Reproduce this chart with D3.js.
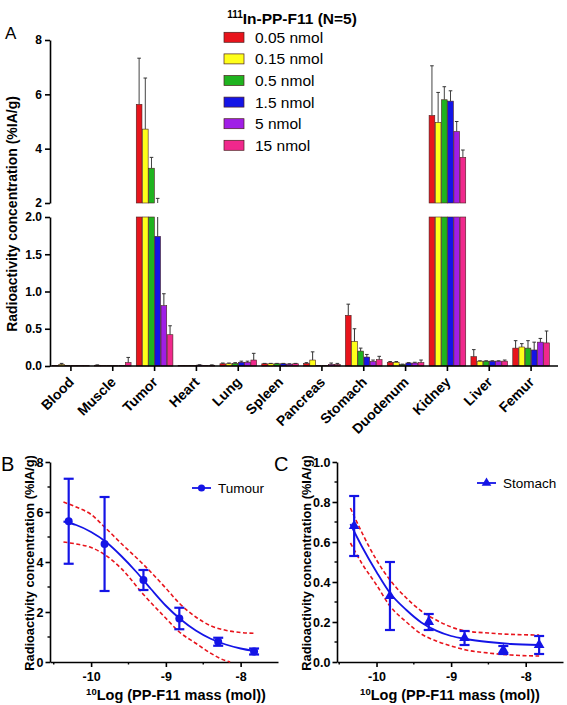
<!DOCTYPE html>
<html><head><meta charset="utf-8">
<script src="https://cdn.jsdelivr.net/npm/d3@7/dist/d3.min.js"></script>
<style>body{margin:0;background:#fff}svg{font-family:"Liberation Sans",Arial,sans-serif}</style>
</head><body><svg id="c" width="567" height="705"></svg>
<script>
const organs = ["Blood","Muscle","Tumor","Heart","Lung","Spleen","Pancreas","Stomach","Duodenum","Kidney","Liver","Femur"];
const doses = ["0.05 nmol","0.15 nmol","0.5 nmol","1.5 nmol","5 nmol","15 nmol"];
const doseColors = ["#e8141c","#ffff1a","#1fb31f","#1414e6","#a01ee6","#f0288c"];
// mean per organ, one array per dose
const mean005 = [0.005,0.010,5.63,0.005,0.030,0.030,0.035,0.68,0.050,5.22,0.125,0.240];
const mean015 = [0.020,0.005,4.72,0.005,0.030,0.030,0.080,0.33,0.050,4.97,0.065,0.255];
const mean05  = [0.005,0.005,3.28,0.005,0.035,0.030,0.005,0.20,0.020,5.80,0.065,0.240];
const mean15  = [0.005,0.005,1.74,0.012,0.050,0.030,0.005,0.12,0.040,5.75,0.065,0.215];
const mean5   = [0.005,0.005,0.81,0.005,0.050,0.025,0.020,0.06,0.040,4.63,0.065,0.320];
const mean15b = [0.005,0.045,0.42,0.010,0.080,0.030,0.020,0.085,0.045,3.68,0.065,0.310];
// SD per organ, one array per dose
const sd005 = [0,0.005,1.70,0,0.010,0.005,0.010,0.15,0.010,1.83,0.095,0.100];
const sd015 = [0.015,0,1.88,0,0.010,0.005,0.110,0.17,0.010,1.10,0.005,0.045];
const sd05  = [0,0,0.40,0,0.010,0.005,0,0.04,0.005,0.48,0.005,0.100];
const sd15  = [0,0,0.43,0.005,0.015,0.005,0,0.035,0.005,0.38,0.005,0.105];
const sd5   = [0,0,0.16,0,0.015,0.005,0.020,0.02,0.010,0.37,0.005,0.050];
const sd15b = [0,0.070,0.12,0.005,0.090,0.005,0.015,0.045,0.035,0.27,0.015,0.160];
const means = [mean005,mean015,mean05,mean15,mean5,mean15b];
const sds = [sd005,sd015,sd05,sd15,sd5,sd15b];
const upperTicks = [2,4,6,8];
const lowerTicks = [0,0.5,1.0,1.5,2.0];

// dose-response panels
const logMass = [-10.3,-9.82,-9.3,-8.82,-8.3,-7.82];
const tumourFitX = [-10.37,-10.2,-10.0,-9.8,-9.6,-9.4,-9.2,-9.0,-8.8,-8.6,-8.4,-8.2,-8.0,-7.82];
const tumourFitY = [5.62,5.48,5.2,4.8,4.25,3.62,2.92,2.25,1.7,1.26,0.93,0.7,0.54,0.44];
const tumourUpX = [-10.37,-10.2,-10.0,-9.82,-9.6,-9.3,-9.0,-8.82,-8.6,-8.4,-8.2,-8.0,-7.82];
const tumourUpY = [6.4,6.2,5.9,5.4,4.75,3.9,2.95,2.35,1.8,1.45,1.27,1.18,1.15];
const tumourLoX = [-10.37,-10.2,-10.0,-9.82,-9.6,-9.3,-9.0,-8.82,-8.6,-8.4,-8.2,-8.14];
const tumourLoY = [4.8,4.72,4.58,4.3,3.75,2.7,1.75,1.2,0.75,0.35,0.05,0.0];
const stomFitX = [-10.35,-10.2,-10.0,-9.82,-9.6,-9.4,-9.2,-9.0,-8.8,-8.5,-8.2,-7.82];
const stomFitY = [0.69,0.58,0.45,0.345,0.26,0.198,0.157,0.13,0.115,0.1,0.09,0.085];
const stomUpY = [0.77,0.65,0.51,0.41,0.32,0.255,0.21,0.175,0.155,0.145,0.138,0.135];
const stomLoY = [0.595,0.495,0.385,0.28,0.2,0.14,0.105,0.08,0.06,0.045,0.035,0.03];
const bYTicks = [0,2,4,6,8], bYMinor=[1,3,5,7];
const cYTicks = [0,0.2,0.4,0.6,0.8,1.0], cYMinor=[0.1,0.3,0.5,0.7,0.9];
const xTicks = [-10,-9,-8], xMinor=[-10.5,-9.5,-8.5];

const svg = d3.select("#c");
svg.append("rect").attr("width",567).attr("height",705).attr("fill","#fff");

// Title
const t = svg.append("text").attr("x",292).attr("y",24).attr("text-anchor","middle")
  .attr("font-weight","bold").attr("font-size",15.5);
t.append("tspan").attr("font-size",10).attr("dy",-6).text("111");
t.append("tspan").attr("dy",6).text("In-PP-F11 (N=5)");
svg.append("text").attr("x",5).attr("y",39).attr("font-size",17).text("A");

// Panel A scales
const x0 = d3.scaleBand().domain(organs).range([50,552]);
const x1 = d3.scaleBand().domain(doses).range([2.6, x0.bandwidth()-2.6]).paddingInner(0.08);
const yUp = d3.scaleLinear().domain([2,8]).range([203,40]);
const yLo = d3.scaleLinear().domain([0,2]).range([366,217]);

const A = svg.append("g");
doses.forEach((d,di)=>{
  organs.forEach((o,oi)=>{
    const v = means[di][oi], e = v + sds[di][oi];
    const bx = x0(o)+x1(d), bw = x1.bandwidth(), cx = bx+bw/2;
    A.append("rect").attr("x",bx).attr("width",bw)
      .attr("y",yLo(Math.min(v,2))).attr("height",yLo(0)-yLo(Math.min(v,2)))
      .attr("fill",doseColors[di]).attr("stroke","#4a2020").attr("stroke-width",0.6);
    if (v>2) {
      A.append("rect").attr("x",bx).attr("width",bw)
        .attr("y",yUp(v)).attr("height",yUp(2)-yUp(v))
        .attr("fill",doseColors[di]).attr("stroke","#4a2020").attr("stroke-width",0.6);
    }
    if (sds[di][oi]>0) {
      if (v<2) {
        A.append("line").attr("x1",cx).attr("x2",cx).attr("y1",yLo(v)).attr("y2",yLo(Math.min(e,2)))
          .attr("stroke","#333").attr("stroke-width",1);
        if (e<=2) A.append("line").attr("x1",cx-1.8).attr("x2",cx+1.8).attr("y1",yLo(e)).attr("y2",yLo(e))
          .attr("stroke","#333").attr("stroke-width",1);
      }
      if (e>2) {
        A.append("line").attr("x1",cx).attr("x2",cx).attr("y1",yUp(Math.max(v,2))).attr("y2",yUp(e))
          .attr("stroke","#444").attr("stroke-width",1);
        A.append("line").attr("x1",cx-1.8).attr("x2",cx+1.8).attr("y1",yUp(e)).attr("y2",yUp(e))
          .attr("stroke","#333").attr("stroke-width",1);
      }
    }
  });
});

function styleAxis(g, fs){
  g.selectAll("path").attr("stroke","#000").attr("stroke-width",1.6);
  g.selectAll("line").attr("stroke","#000").attr("stroke-width",1.6);
  g.selectAll("text").attr("font-weight","bold").attr("font-size",fs).attr("fill","#000")
   .attr("font-family","Liberation Sans, Arial, sans-serif");
}
const gUp = svg.append("g").attr("transform","translate(50,0)")
  .call(d3.axisLeft(yUp).tickValues(upperTicks).tickSize(5).tickSizeOuter(0).tickPadding(3).tickFormat(d3.format("d")));
styleAxis(gUp,12);
const gLo = svg.append("g").attr("transform","translate(50,0)")
  .call(d3.axisLeft(yLo).tickValues(lowerTicks).tickSize(5).tickSizeOuter(0).tickPadding(3).tickFormat(d3.format(".1f")));
styleAxis(gLo,12);
const gX = svg.append("g").attr("transform","translate(0,366)")
  .call(d3.axisBottom(x0).tickSize(5).tickSizeOuter(0).tickFormat(""));
gX.select("path").attr("d","M50,0H558");
styleAxis(gX,12);
organs.forEach(o=>{
  svg.append("text").attr("transform",`translate(${x0(o)+x0.bandwidth()/2+4},383) rotate(-45)`)
    .attr("text-anchor","end").attr("font-weight","bold").attr("font-size",14).text(o);
});
svg.append("text").attr("transform","translate(17,214) rotate(-90)").attr("text-anchor","middle")
  .attr("font-weight","bold").attr("font-size",14).text("Radioactivity concentration (%IA/g)");

// Legend A
doses.forEach((d,i)=>{
  const ly = 37.3 + i*21.6;
  svg.append("rect").attr("x",224).attr("y",ly-5).attr("width",20).attr("height",10)
    .attr("fill",doseColors[i]).attr("stroke","#4a2020").attr("stroke-width",0.7);
  svg.append("text").attr("x",255).attr("y",ly+5.5).attr("font-size",15.5).text(d);
});

// XY panels
function panel(opt){
  const g = svg.append("g");
  const xs = d3.scaleLinear().domain(opt.xDom).range(opt.xRange);
  const ys = d3.scaleLinear().domain(opt.yDom).range([662,462]);
  g.append("defs").append("clipPath").attr("id","clip"+opt.id).append("rect")
    .attr("x",opt.xRange[0]).attr("y",455).attr("width",opt.xRange[1]-opt.xRange[0]).attr("height",208);
  opt.yMinor.forEach(v=>g.append("line").attr("x1",opt.xRange[0]-2.5).attr("x2",opt.xRange[0]).attr("y1",ys(v)).attr("y2",ys(v)).attr("stroke","#000").attr("stroke-width",1.4));
  xMinor.forEach(v=>g.append("line").attr("y1",662).attr("y2",664.5).attr("x1",xs(v)).attr("x2",xs(v)).attr("stroke","#000").attr("stroke-width",1.4));
  const ga = g.append("g").attr("transform",`translate(${opt.xRange[0]},0)`)
    .call(d3.axisLeft(ys).tickValues(opt.yTicks).tickSize(4.5).tickSizeOuter(0).tickPadding(2).tickFormat(opt.yFmt));
  styleAxis(ga,12.5);
  const gb = g.append("g").attr("transform","translate(0,662)")
    .call(d3.axisBottom(xs).tickValues(xTicks).tickSize(5).tickSizeOuter(0).tickPadding(5).tickFormat(d3.format("d")));
  styleAxis(gb,12.5);
  gb.selectAll("text").text(d=>"-"+Math.abs(d));
  const line = d3.line().x(d=>xs(d[0])).y(d=>ys(d[1])).curve(d3.curveMonotoneX);
  const pl = g.append("g").attr("clip-path",`url(#clip${opt.id})`);
  pl.append("path").attr("d",line(d3.zip(opt.upX,opt.upY))).attr("fill","none").attr("stroke","#e8141c").attr("stroke-width",1.6).attr("stroke-dasharray","4,2.5");
  pl.append("path").attr("d",line(d3.zip(opt.loX,opt.loY))).attr("fill","none").attr("stroke","#e8141c").attr("stroke-width",1.6).attr("stroke-dasharray","4,2.5");
  pl.append("path").attr("d",line(d3.zip(opt.fitX,opt.fitY))).attr("fill","none").attr("stroke","#1414e6").attr("stroke-width",1.8);
  const blue="#1414e6";
  logMass.forEach((lx,i)=>{
    const m = opt.m[i], s = opt.s[i], cx = xs(lx);
    g.append("line").attr("x1",cx).attr("x2",cx).attr("y1",ys(m-s)).attr("y2",ys(m+s)).attr("stroke",blue).attr("stroke-width",2.2);
    [m-s,m+s].forEach(v=>g.append("line").attr("x1",cx-5).attr("x2",cx+5).attr("y1",ys(v)).attr("y2",ys(v)).attr("stroke",blue).attr("stroke-width",2.2));
    g.append("path").attr("transform",`translate(${cx},${ys(m)})`).attr("d",d3.symbol(opt.sym,opt.symSize)()).attr("fill",blue);
  });
  g.append("line").attr("x1",opt.legX).attr("x2",opt.legX+19).attr("y1",opt.legY).attr("y2",opt.legY).attr("stroke",blue).attr("stroke-width",1.8);
  g.append("path").attr("transform",`translate(${opt.legX+9.5},${opt.legY})`).attr("d",d3.symbol(opt.sym,opt.symSize*0.8)()).attr("fill",blue);
  g.append("text").attr("x",opt.legX+26).attr("y",opt.legY+5).attr("font-size",13.5).text(opt.name);
  g.append("text").attr("transform",`translate(${opt.yTitleX},563) rotate(-90)`).attr("text-anchor","middle")
    .attr("font-weight","bold").attr("font-size",12.8).text("Radioactivity concentration (%IA/g)");
  const xt = g.append("text").attr("x",opt.xTitleX).attr("y",700).attr("text-anchor","middle").attr("font-weight","bold").attr("font-size",14.5);
  xt.append("tspan").attr("font-size",9.5).attr("dy",-5).text("10");
  xt.append("tspan").attr("dy",5).text("Log (PP-F11 mass (mol))");
  g.append("text").attr("x",opt.labX).attr("y",471).attr("font-size",20).text(opt.lab);
}
const tumourM = means.map(a=>a[2]), tumourS = sds.map(a=>a[2]);
const stomM = means.map(a=>a[7]), stomS = sds.map(a=>a[7]);
panel({id:"B",lab:"B",labX:1,xDom:[-10.55,-7.5],xRange:[50,278],yDom:[0,8],yTicks:bYTicks,yMinor:bYMinor,yFmt:d3.format("d"),
  fitX:tumourFitX,fitY:tumourFitY,upX:tumourUpX,upY:tumourUpY,loX:tumourLoX,loY:tumourLoY,
  m:tumourM,s:tumourS,sym:d3.symbolCircle,symSize:50,legX:192,legY:488,name:"Tumour",yTitleX:34,xTitleX:176});
panel({id:"C",lab:"C",labX:274,xDom:[-10.53,-7.5],xRange:[337,563],yDom:[0,1],yTicks:cYTicks,yMinor:cYMinor,yFmt:d3.format(".1f"),
  fitX:stomFitX,fitY:stomFitY,upX:stomFitX,upY:stomUpY,loX:stomFitX,loY:stomLoY,
  m:stomM,s:stomS,sym:d3.symbolTriangle,symSize:50,legX:477,legY:483,name:"Stomach",yTitleX:311,xTitleX:450});
</script></body></html>
